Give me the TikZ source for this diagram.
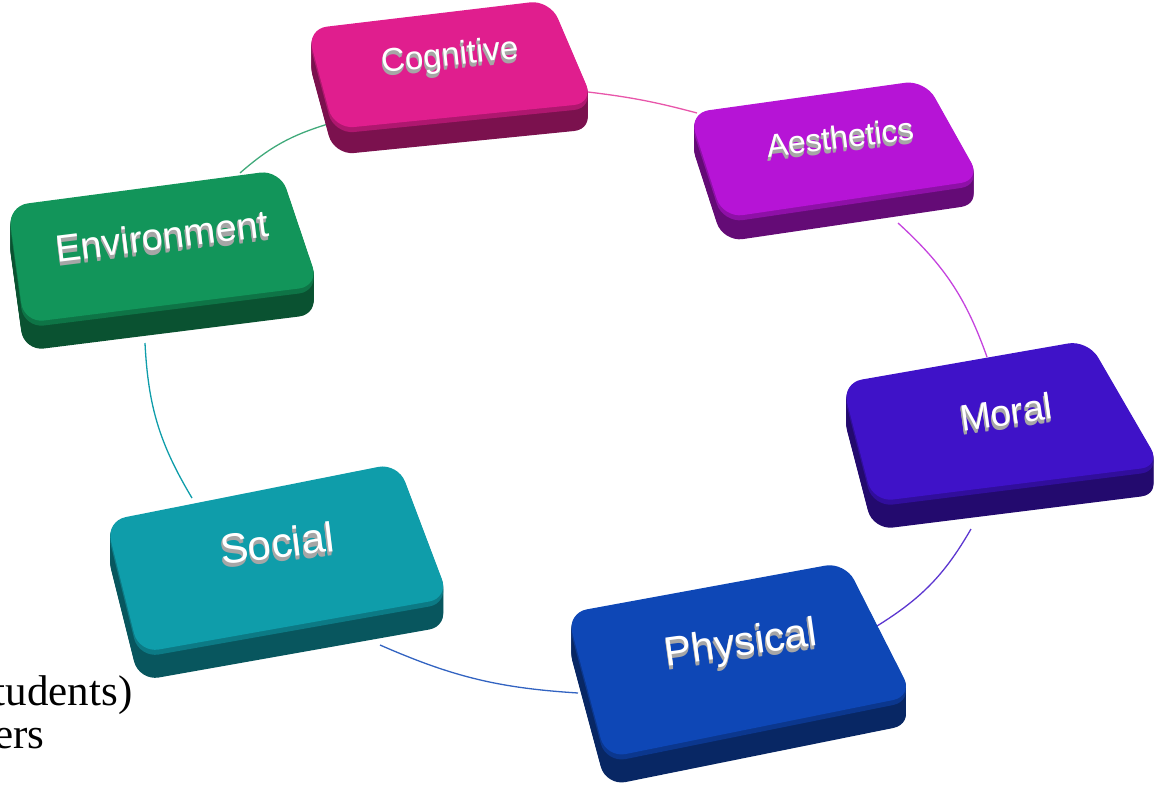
\documentclass[tikz,border=0pt]{standalone}
\usepackage{fontspec}
\setmainfont{Liberation Serif}
\newfontfamily\tilefont{Liberation Sans}
\usetikzlibrary{positioning,calc}

\definecolor{cogpink}{HTML}{E01E8E}
\definecolor{aesviolet}{HTML}{B614D6}
\definecolor{envgreen}{HTML}{12955A}
\definecolor{morindigo}{HTML}{3F12C8}
\definecolor{socteal}{HTML}{0F9DAA}
\definecolor{phyblue}{HTML}{0E47B6}

% raised tile: colour, corners of the top face (TL, TR, BR, BL), thickness
\newcommand{\tile}[6]{%
  \foreach \d in {1,...,#6}
    \fill[#1!55!black, rounded corners=20, shift={(0,\d)}] (#2) -- (#3) -- (#4) -- (#5) -- cycle;
  \fill[#1!78!black, rounded corners=20, shift={(0,5)}] (#2) -- (#3) -- (#4) -- (#5) -- cycle;
  \fill[#1, rounded corners=20] (#2) -- (#3) -- (#4) -- (#5) -- cycle;
}

% embossed label: name, position, angle, font size, text
\newcommand{\tilelabel}[5]{%
  \foreach \k in {4,3,2,1}
    \node[rotate=#3, text=gray!70, font=\tilefont\fontsize{#4}{#4}\selectfont, yshift=-\k, xshift=-0.3*\k] (#1-s\k) at (#2) {#5};
  \node[rotate=#3, text=white, font=\tilefont\fontsize{#4}{#4}\selectfont] (#1) at (#2) {#5};
}

\tikzset{link/.style={line width=1.3}}

\begin{document}
\begin{tikzpicture}[x=1pt, y=-1pt]
  \useasboundingbox (0,0) rectangle (1157,790);

  % ends of the ring segments
  \coordinate (env-n) at (240,173);
  \coordinate (cog-w) at (328,124);
  \coordinate (cog-e) at (588,92);
  \coordinate (aes-w) at (697,113);
  \coordinate (aes-s) at (898,223);
  \coordinate (mor-n) at (987,357);
  \coordinate (mor-s) at (971,529);
  \coordinate (phy-e) at (877,626);
  \coordinate (phy-w) at (578,693);
  \coordinate (soc-s) at (380,645);
  \coordinate (soc-n) at (192,498);
  \coordinate (env-s) at (145,343);

  % ring
  \draw[link, color=envgreen!80] (env-n) to[bend left=12] (cog-w);
  \draw[link, color=cogpink!75] (cog-e) to[bend left=4] (aes-w);
  \draw[link, color=aesviolet!80] (aes-s) to[bend left=14] (mor-n);
  \draw[link, color=morindigo!85] (mor-s) to[bend left=14] (phy-e);
  \draw[link, color=phyblue!85] (phy-w) to[bend left=10] (soc-s);
  \draw[link, color=socteal] (soc-n) to[bend left=14] (env-s);

  % tiles
  \tile{cogpink}{307,29}{550,0}{594,103}{334,129}{26}
  \tile{aesviolet}{689,113}{925,80}{981,180}{723,218}{24}
  \tile{envgreen}{8,206}{280,170}{319,286}{24,323}{28}
  \tile{morindigo}{842,383}{1088,340}{1161,466}{873,502}{28}
  \tile{socteal}{106,521}{398,463}{449,598}{139,653}{28}
  \tile{phyblue}{567,613}{845,562}{913,696}{606,758}{28}

  % labels
  \tilelabel{cog}{450,57}{6}{33}{Cognitive}
  \tilelabel{aes}{840,137}{7}{32}{Aesthetics}
  \tilelabel{env}{162,236}{7}{38}{Environment}
  \tilelabel{mor}{1006,412}{8}{37}{Moral}
  \tilelabel{soc}{277,543}{7}{42}{Social}
  \tilelabel{phy}{741,645}{8}{41}{Physical}

  % text running in from the left
  \node[anchor=base east, font=\fontsize{43}{50}\selectfont] (note1) at (136,705) {tudents)};
  \node[anchor=base east, font=\fontsize{43}{50}\selectfont] (note2) at (48,748) {ers};
\end{tikzpicture}
\end{document}
